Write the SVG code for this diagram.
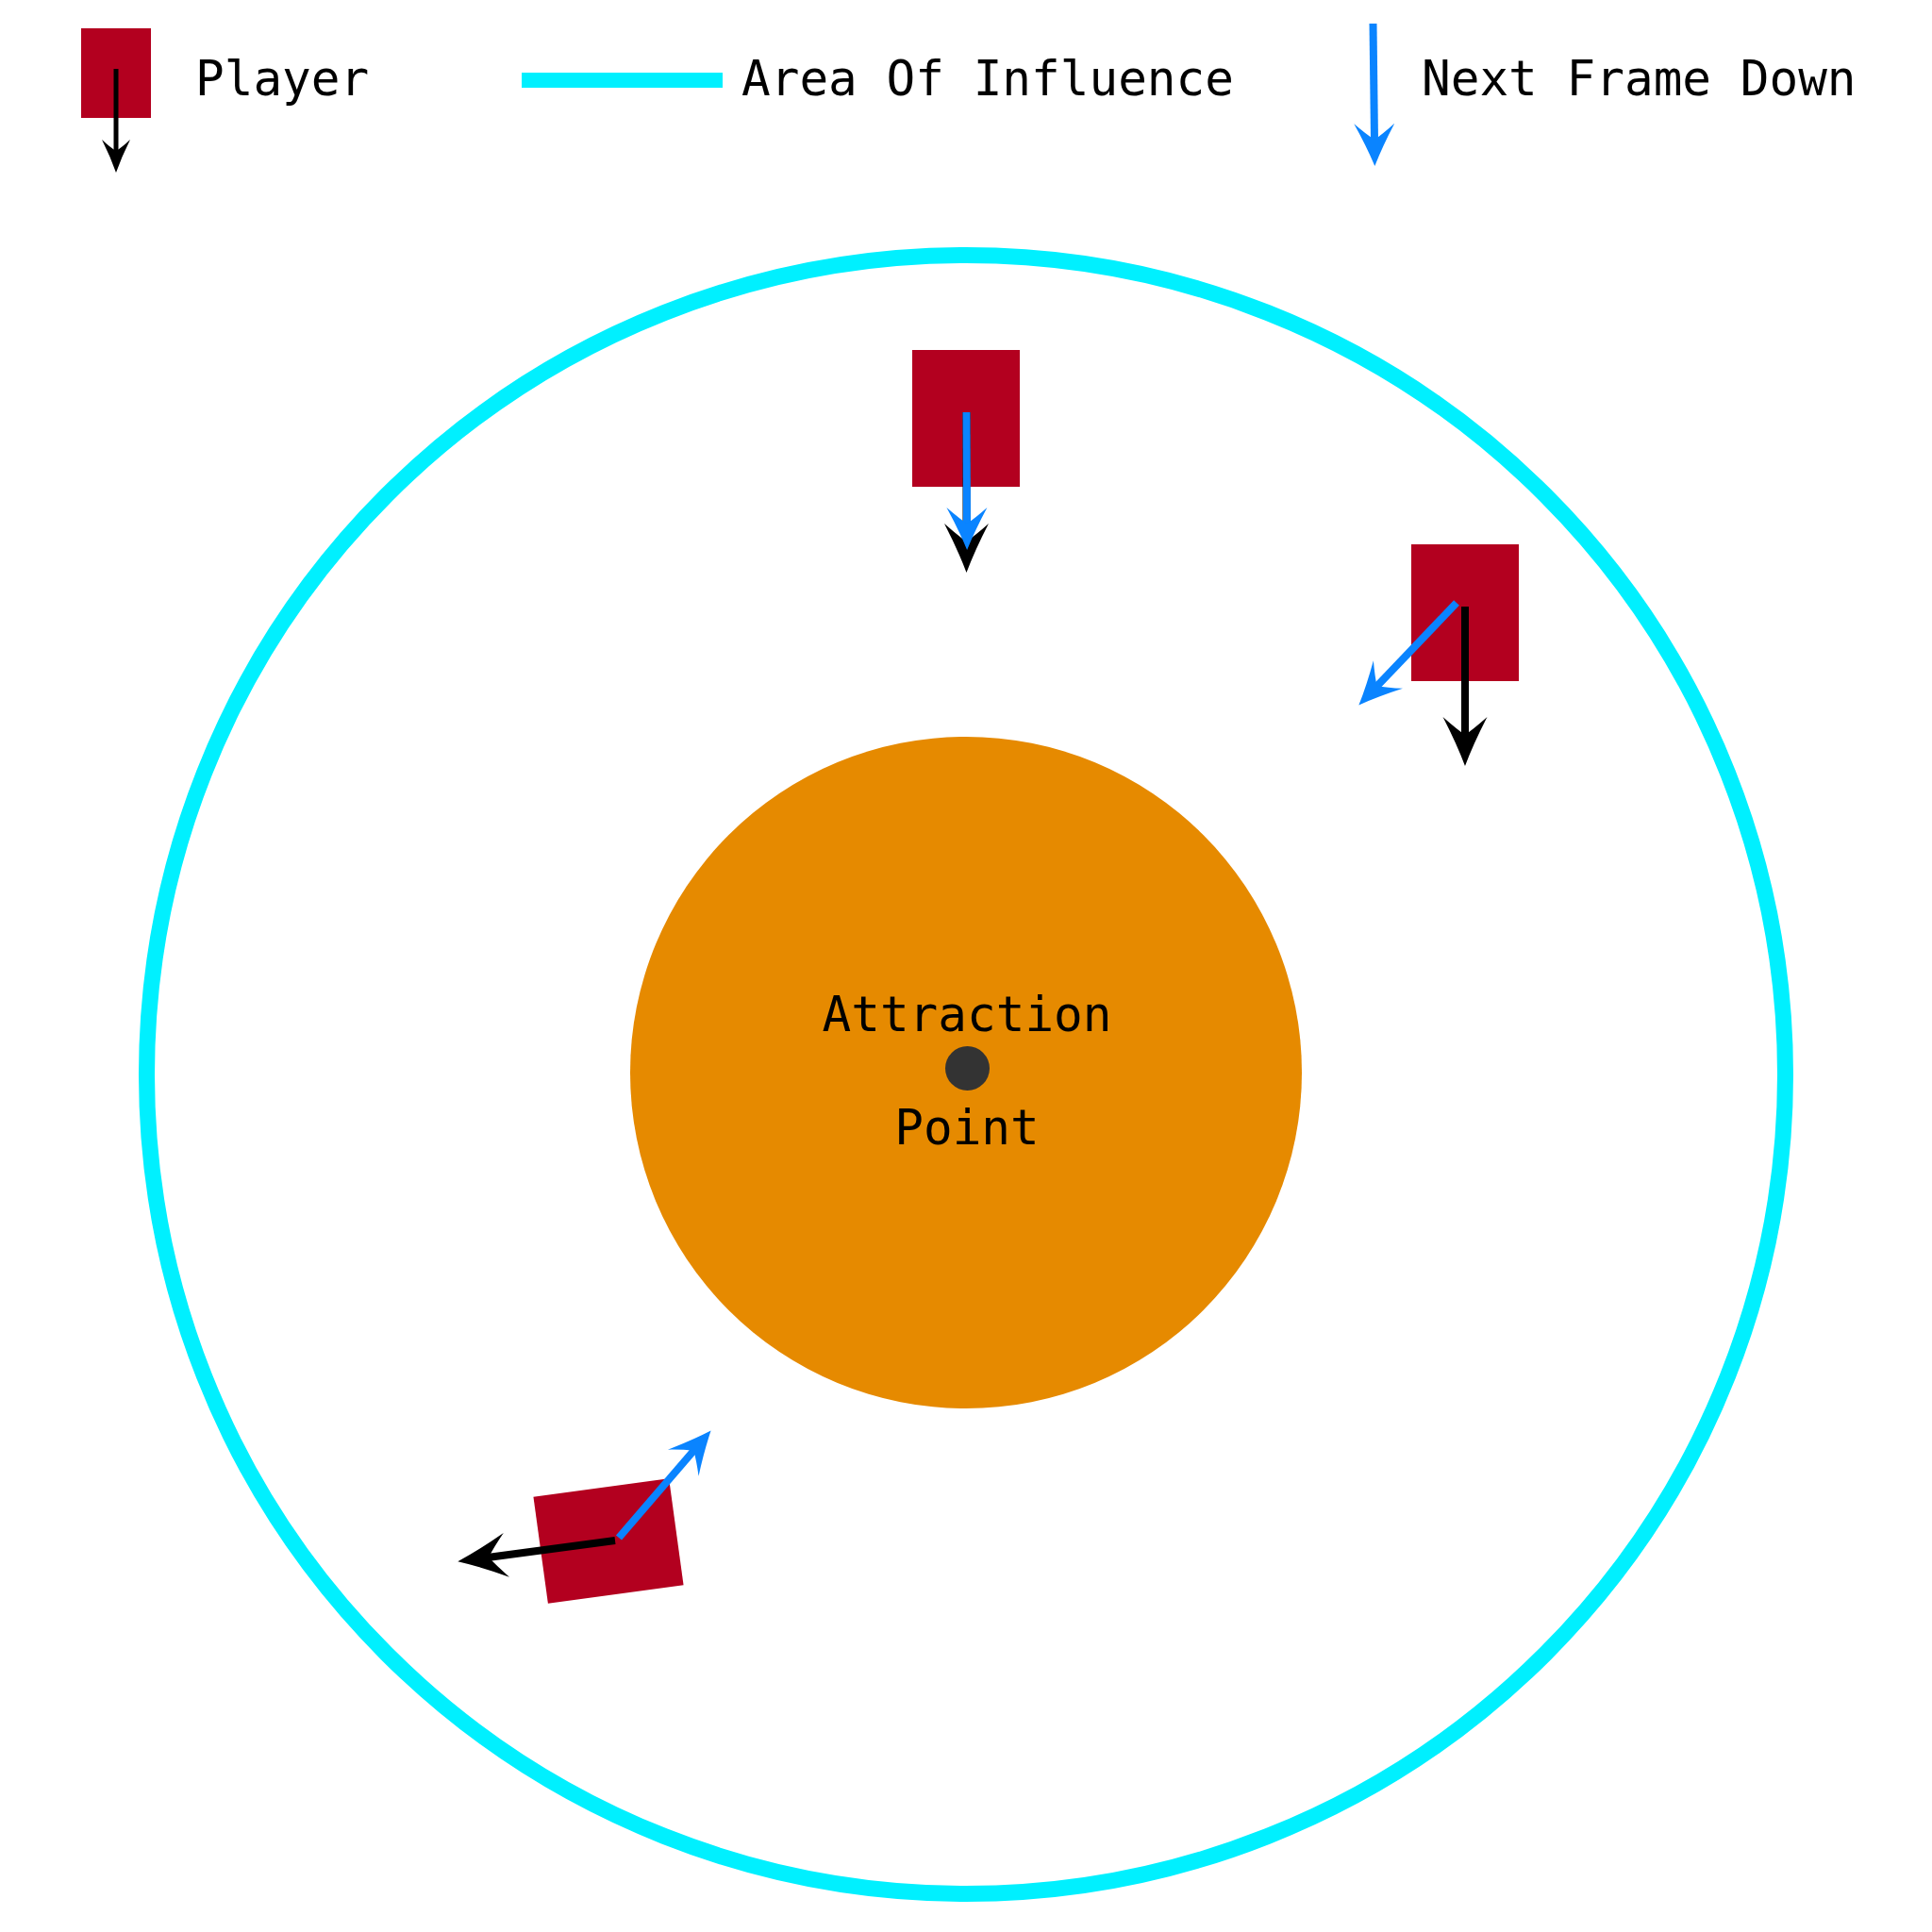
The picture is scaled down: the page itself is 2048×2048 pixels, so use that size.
<svg xmlns="http://www.w3.org/2000/svg" width="2048" height="2048" viewBox="0 0 2048 2048">
  <style>
    .txt { font-family: "DejaVu Sans Mono", "Liberation Mono", monospace; font-size: 51px; fill: #000000; }
    .player { fill: #B3001F; }
    .blk { stroke: #000000; stroke-width: 8; fill: none; }
    .blu { stroke: #0A84FF; stroke-width: 8; fill: none; }
  </style>
  <defs>
    <marker id="headBlack" markerUnits="userSpaceOnUse" orient="auto" refX="0" refY="0" markerWidth="60" markerHeight="60" viewBox="-25 -30 60 60" overflow="visible">
      <path d="M32,0 Q8,-9 -20,-23.5 Q-8,-10 -1,0 Q-8,10 -20,23.5 Q8,9 32,0 Z" fill="#000000"/>
    </marker>
    <marker id="headBlue" markerUnits="userSpaceOnUse" orient="auto" refX="0" refY="0" markerWidth="60" markerHeight="60" viewBox="-25 -30 60 60" overflow="visible">
      <path d="M27,0 Q6,-8.5 -18,-21.5 Q-7,-9 -1,0 Q-7,9 -18,21.5 Q6,8.5 27,0 Z" fill="#0A84FF"/>
    </marker>
    <marker id="headSmall" markerUnits="userSpaceOnUse" orient="auto" refX="0" refY="0" markerWidth="60" markerHeight="60" viewBox="-25 -30 60 60" overflow="visible">
      <path d="M22,0 Q5,-6 -13,-15 Q-5,-6.5 -1,0 Q-5,6.5 -13,15 Q5,6 22,0 Z" fill="#000000"/>
    </marker>
  </defs>
  <rect width="2048" height="2048" fill="#FFFFFF"/>

  <g id="area-of-influence">
    <circle cx="1024" cy="1139" r="868.5" fill="none" stroke="#00F0FF" stroke-width="17"/>
  </g>

  <g id="attraction-zone">
    <circle cx="1024" cy="1137" r="356" fill="#E68A00"/>
    <circle cx="1025.5" cy="1132.5" r="23.5" fill="#333333"/>
    <text class="txt" x="1025" y="1093" text-anchor="middle">Attraction</text>
    <text class="txt" x="1025" y="1213" text-anchor="middle">Point</text>
  </g>

  <g id="legend">
    <g id="legend-player">
      <rect class="player" x="86" y="30" width="74" height="95"/>
      <text class="txt" x="207" y="101">Player</text>
    </g>
    <g id="legend-area">
      <rect x="553" y="77" width="213" height="16" fill="#00F0FF"/>
      <text class="txt" x="786" y="101">Area Of Influence</text>
    </g>
    <g id="legend-next">
      <text class="txt" x="1507" y="101">Next Frame Down</text>
    </g>
  </g>

  <g id="player-top">
    <rect class="player" x="967" y="371" width="114" height="145"/>
  </g>
  <g id="player-right">
    <rect class="player" x="1496" y="577" width="114" height="145"/>
  </g>
  <g id="player-bottom">
    <rect class="player" x="572.5" y="1576.5" width="145" height="114" transform="rotate(-7.8 645 1633.5)"/>
  </g>

  <g id="connectors">
    <line x1="123" y1="73" x2="123" y2="161" stroke="#000000" stroke-width="5" marker-end="url(#headSmall)"/>
    <line class="blu" x1="1455.5" y1="25" x2="1457" y2="149" marker-end="url(#headBlue)"/>

    <line class="blk" x1="1024.5" y1="437" x2="1024.5" y2="575" marker-end="url(#headBlack)"/>
    <line class="blu" x1="1024.5" y1="437" x2="1025" y2="556" marker-end="url(#headBlue)"/>

    <line class="blk" x1="1553" y1="643" x2="1553" y2="780" marker-end="url(#headBlack)"/>
    <line class="blu" x1="1544" y1="639" x2="1459" y2="728" marker-end="url(#headBlue)"/>

    <line class="blk" x1="652" y1="1633" x2="517" y2="1651" marker-end="url(#headBlack)"/>
    <line class="blu" x1="656" y1="1630" x2="736" y2="1537" marker-end="url(#headBlue)"/>
  </g>
</svg>
